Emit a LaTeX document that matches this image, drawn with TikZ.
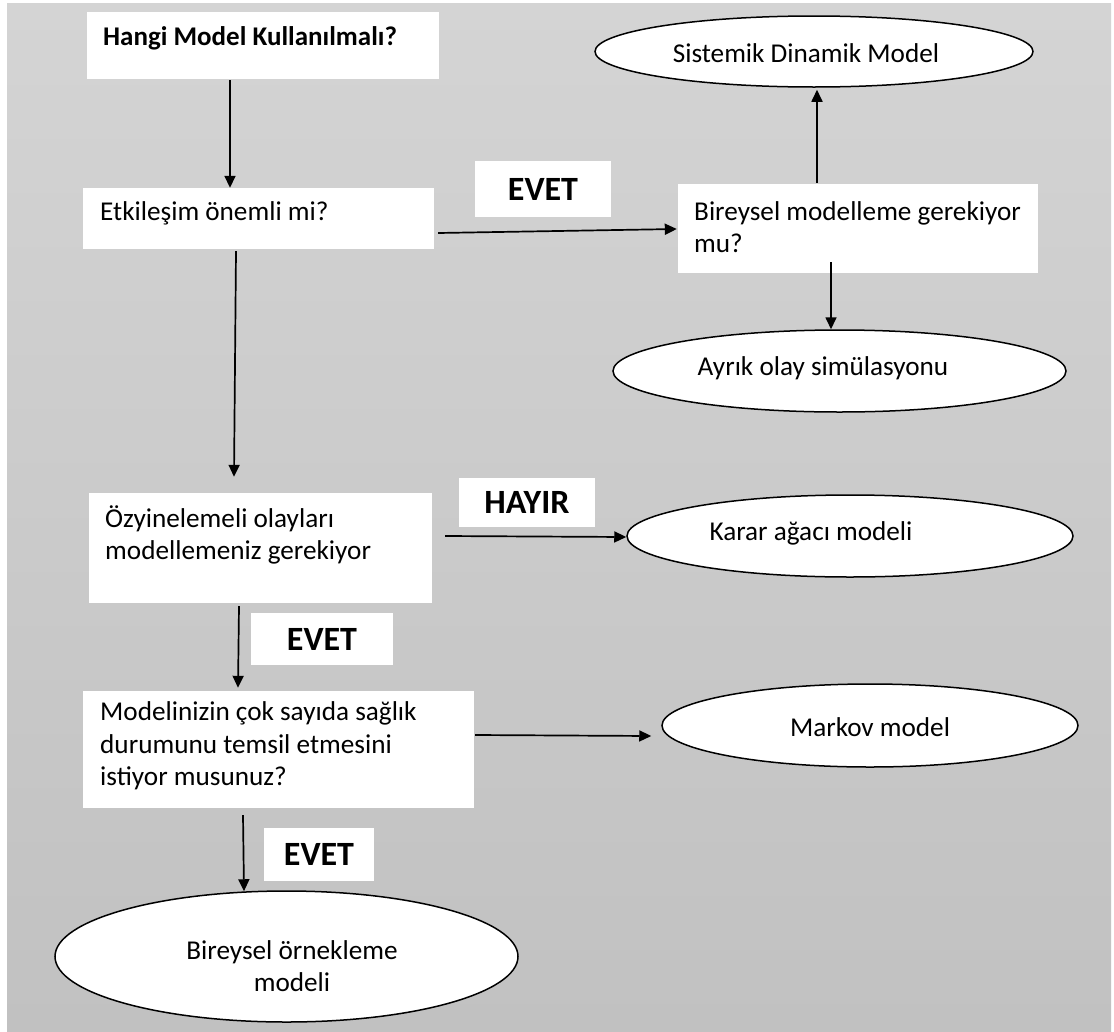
\documentclass[tikz,border=0pt]{standalone}
\usepackage{fontspec}
\setmainfont{Carlito}
\usetikzlibrary{arrows.meta,calc,shapes.geometric}

\definecolor{bgtop}{RGB}{212,212,212}
\definecolor{bgbot}{RGB}{193,193,193}

\tikzset{
  qbox/.style={rectangle, fill=white, draw=none, inner sep=0pt},
  outcome/.style={ellipse, fill=white, draw=black, line width=1.5pt, inner sep=0pt},
  answer/.style={rectangle, fill=white, draw=none, inner sep=0pt,
    font=\fontsize{34}{40}\selectfont\bfseries},
  qtext/.style={anchor=west, align=left, inner sep=0pt,
    font=\fontsize{27.2}{32.5}\selectfont},
  otext/.style={align=center, inner sep=0pt,
    font=\fontsize{27.2}{32.5}\selectfont},
  arr/.style={line width=1.7pt, -{Triangle[length=12pt,width=11pt]}}
}

\begin{document}
\begin{tikzpicture}[x=1pt,y=-1pt]
\useasboundingbox (0,0) rectangle (1114,1031);
\fill[white] (0,0) rectangle (1114,1031);
\shade[top color=bgtop, bottom color=bgbot] (7,3) rectangle (1111,1031);

% question boxes
\node[qbox, minimum width=352pt, minimum height=67pt]  (b1) at (263,45.5)  {};
\node[qbox, minimum width=351pt, minimum height=61pt]  (b2) at (258.5,218.5) {};
\node[qbox, minimum width=360pt, minimum height=89pt]  (b3) at (858,228.5) {};
\node[qbox, minimum width=343pt, minimum height=110pt] (b4) at (260.5,548) {};
\node[qbox, minimum width=391pt, minimum height=117pt] (b5) at (278.5,749.5) {};

\node[qtext, font=\fontsize{27}{32.5}\selectfont\bfseries] (t1) at (103,38) {Hangi Model Kullanılmalı?};
\node[qtext] (t2) at (100,213) {Etkileşim önemli mi?};
\node[qtext] (t3) at (694,227) {Bireysel modelleme gerekiyor\\mu?};
\node[qtext] (t4) at (105,535) {Özyinelemeli olayları\\modellemeniz gerekiyor};
\node[qtext] (t5) at (100,746) {Modelinizin çok sayıda sağlık\\durumunu temsil etmesini\\istiyor musunuz?};

% outcome ellipses
\node[outcome, minimum width=438pt, minimum height=71pt]  (e1) at (814,51.5) {};
\node[outcome, minimum width=453pt, minimum height=82pt]  (e2) at (839.5,371) {};
\node[outcome, minimum width=446pt, minimum height=82pt]  (e3) at (850,536) {};
\node[outcome, minimum width=416pt, minimum height=83pt]  (e4) at (870,725.5) {};
\node[outcome, minimum width=463pt, minimum height=131pt] (e5) at (286.5,956.5) {};

\node[otext] (o1) at (806,53)  {Sistemik Dinamik Model};
\node[otext] (o2) at (823,368) {Ayrık olay simülasyonu};
\node[otext] (o3) at (811,533) {Karar ağacı modeli};
\node[otext] (o4) at (870,727) {Markov model};
\node[otext] (o5) at (292,966) {Bireysel örnekleme\\modeli};

% answer labels
\node[answer, minimum width=136pt, minimum height=56pt] (l1) at (543,189)   {EVET};
\node[answer, minimum width=136pt, minimum height=49pt] (l2) at (527,502.5) {HAYIR};
\node[answer, minimum width=142pt, minimum height=52pt] (l3) at (322,639)   {EVET};
\node[answer, minimum width=110pt, minimum height=53pt] (l4) at (319,854.5) {EVET};

% connectors
\draw[arr] ($(b1.south)+(-33,1)$) -- ($(b2.north)+(-28.5,0)$);
\draw[arr] ($(b2.east)+(4,14.5)$) -- ($(b3.west)+(-1,0.5)$);
\draw[arr] ($(b2.south)+(-22.5,2)$) -- ($(b4.north)+(-26.5,-16)$);
\draw[arr] ($(b3.north)+(-41,-1)$) -- ($(e1.south)+(3,2)$);
\draw[arr] ($(b3.south)+(-27,-11)$) -- ($(e2.north)+(-8.5,0)$);
\draw[arr] ($(b4.east)+(13,-12)$) -- ($(e3.west)+(0,1)$);
\draw[arr] ($(b4.south)+(-21.5,3)$) -- ($(b5.north)+(-40.5,-3)$);
\draw[arr] ($(b5.east)+(1,-14.5)$) -- ($(e4.west)+(-10,10.5)$);
\draw[arr] ($(b5.south)+(-35.5,7)$) -- ($(e5.north)+(-42.5,1)$);
\end{tikzpicture}
\end{document}
